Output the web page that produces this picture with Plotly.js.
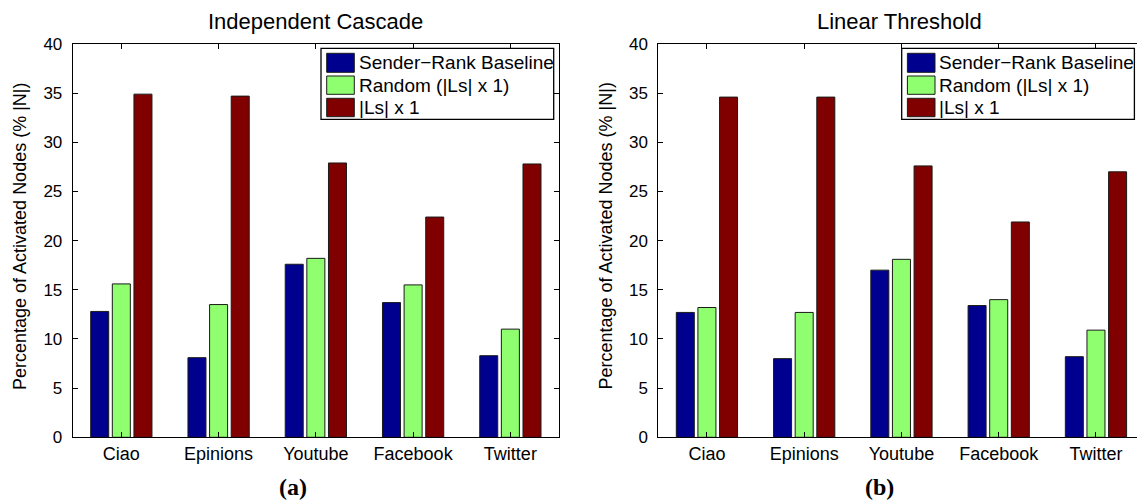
<!DOCTYPE html>
<html>
<head>
<meta charset="utf-8">
<script src="https://cdn.plot.ly/plotly-3.0.1.min.js"></script>
<style>html,body{margin:0;padding:0;background:#fff;}#chart{width:1137px;height:500px;}</style>
</head>
<body>
<div id="chart"></div>
<script>
const categories = ["Ciao", "Epinions", "Youtube", "Facebook", "Twitter"];
const seriesNames = ["Sender\u2212Rank Baseline", "Random (|Ls| x 1)", "|Ls| x 1"];
const icBaseline = [12.8, 8.1, 17.6, 13.7, 8.3];
const icRandom   = [15.6, 13.5, 18.2, 15.5, 11.0];
const icLs       = [34.9, 34.7, 27.9, 22.4, 27.8];
const ltBaseline = [12.7, 8.0, 17.0, 13.4, 8.2];
const ltRandom   = [13.2, 12.7, 18.1, 14.0, 10.9];
const ltLs       = [34.6, 34.6, 27.6, 21.9, 27.0];
const yTicks = [0, 5, 10, 15, 20, 25, 30, 35, 40];
const panelTitles = ["Independent Cascade", "Linear Threshold"];
const panelLabels = ["(a)", "(b)"];
const yTitle = "Percentage of Activated Nodes (% |N|)";

(function () {
const W = 1137, H = 500;
const px = x => x / W;
const py = y => 1 - y / H;
const colors = ["#00008F", "#8FFF6F", "#800000"];
const font = "Liberation Sans, Arial, Helvetica, sans-serif";

function bars(vals, name, i, xa, ya) {
  return {type: "bar", x: categories, y: vals, name: name, xaxis: xa, yaxis: ya,
    showlegend: false,
    marker: {color: colors[i], line: {color: "#1a1a1a", width: 1}}};
}
const data = [
  bars(icBaseline, seriesNames[0], 0, "x", "y"),
  bars(icRandom, seriesNames[1], 1, "x", "y"),
  bars(icLs, seriesNames[2], 2, "x", "y"),
  bars(ltBaseline, seriesNames[0], 0, "x2", "y2"),
  bars(ltRandom, seriesNames[1], 1, "x2", "y2"),
  bars(ltLs, seriesNames[2], 2, "x2", "y2")
];

const left1 = 72.7, right1 = 559, left2 = 658.3;
const plotTop = 44, plotBottom = 437.3;
const unit = (right1 - left1) / 5;

const xBase = {type: "category", showline: true, linecolor: "#000", linewidth: 1,
  ticks: "inside", ticklen: 5, tickcolor: "#000", mirror: "ticks", showgrid: false,
  zeroline: false, tickfont: {family: font, size: 18, color: "#000"}, fixedrange: true};
const yBase = {range: [0, 40], tickvals: yTicks, showline: true, linecolor: "#000", linewidth: 1,
  ticks: "inside", ticklen: 5, tickcolor: "#000", showgrid: false, zeroline: false,
  tickfont: {family: font, size: 17, color: "#000"}, ticklabelstandoff: 6, fixedrange: true};

const layout = {
  width: W, height: H,
  margin: {l: 0, r: 0, t: 0, b: 0},
  paper_bgcolor: "#fff", plot_bgcolor: "#fff",
  barmode: "group", bargap: 0.333, bargroupgap: 0.167,
  showlegend: false,
  xaxis: Object.assign({}, xBase, {domain: [px(left1), px(right1)], range: [-0.5, 4.5], anchor: "y"}),
  yaxis: Object.assign({}, yBase, {domain: [py(plotBottom), py(plotTop)], anchor: "x", mirror: "ticks"}),
  xaxis2: Object.assign({}, xBase, {domain: [px(left2), 1], range: [-0.5, -0.5 + (W - left2) / unit], anchor: "y2"}),
  yaxis2: Object.assign({}, yBase, {domain: [py(plotBottom), py(plotTop)], anchor: "x2", mirror: false}),
  shapes: [], annotations: []
};

const centers = [(left1 + right1) / 2, 899];
const yTitleX = [20, 20 + (left2 - left1)];
for (let p = 0; p < 2; p++) {
  layout.annotations.push({text: panelTitles[p], xref: "paper", yref: "paper",
    x: px(centers[p]), y: py(21), xanchor: "center", yanchor: "middle", showarrow: false,
    font: {family: font, size: 22, color: "#000"}});
  layout.annotations.push({text: "<b>" + panelLabels[p] + "</b>", xref: "paper", yref: "paper",
    x: px(p === 0 ? 293 : 879), y: py(487), xanchor: "center", yanchor: "middle", showarrow: false,
    font: {family: "Liberation Serif, Times New Roman, serif", size: 24, color: "#000"}});
  layout.annotations.push({text: yTitle, xref: "paper", yref: "paper", textangle: -90,
    x: px(yTitleX[p]), y: py(236), xanchor: "center", yanchor: "middle", showarrow: false,
    font: {family: font, size: 18, color: "#000"}});
}

const legLeft = [321, 901.7];
for (let p = 0; p < 2; p++) {
  const L = legLeft[p];
  layout.shapes.push({type: "rect", xref: "paper", yref: "paper",
    x0: px(L), x1: px(L + 232.7), y0: py(48.3), y1: py(119.3),
    line: {color: "#000", width: 1.3}, fillcolor: "#fff", layer: "above"});
  const rows = [[53.3, 72.3], [76, 94.3], [98.3, 116.7]];
  for (let i = 0; i < 3; i++) {
    layout.shapes.push({type: "rect", xref: "paper", yref: "paper",
      x0: px(L + 5.7), x1: px(L + 33.3), y0: py(rows[i][0]), y1: py(rows[i][1]),
      line: {color: "#1a1a1a", width: 1}, fillcolor: colors[i], layer: "above"});
    layout.annotations.push({text: seriesNames[i], xref: "paper", yref: "paper",
      x: px(L + 35.5), y: py((rows[i][0] + rows[i][1]) / 2), xanchor: "left", yanchor: "middle",
      showarrow: false, font: {family: font, size: 19, color: "#000"}});
  }
}

Plotly.newPlot("chart", data, layout, {displayModeBar: false, staticPlot: true});
})();
</script>
</body>
</html>
